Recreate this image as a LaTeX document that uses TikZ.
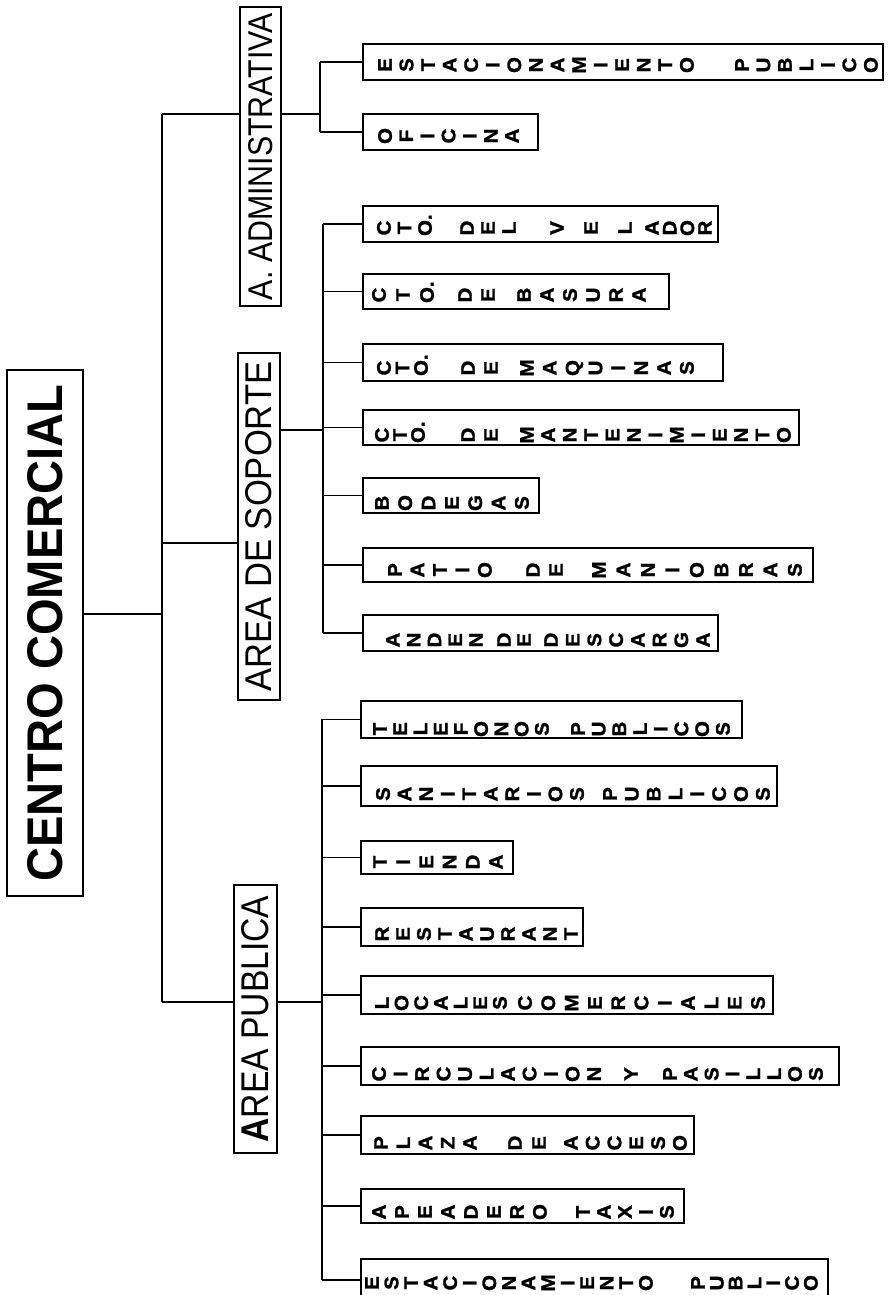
\documentclass[tikz,border=0pt]{standalone}
\usepackage{fontspec}
\setmainfont{Liberation Sans}
\newfontfamily\leaffont{Liberation Sans}[UprightFont=* Bold, FakeStretch=1.05, FakeBold=1.5]
% name, x of first letter, x of last letter, y, number of letters, stacked letters
\newcommand\wordat[6]{%
  \pgfmathsetmacro\wpitch{(#3-#2)/max(#5-1,1)}%
  \pgfmathsetmacro\wmid{(#2+#3)/2}%
  \node[ltrs, font={\leaffont\fontsize{19.5pt}{\wpitch pt}\selectfont}] (#1) at (\wmid,#4) {#6};}
% name, left, top, right, bottom
\newcommand\leafat[5]{%
  \node[leafbox, anchor=north west, minimum width={(#4-#2)*1pt}, minimum height={(#5-#3)*1pt}] (#1) at (#2,#3) {};}
\begin{document}
\begin{tikzpicture}[x=1pt,y=-1pt,
  conn/.style={line width=1.7pt},
  leafbox/.style={draw, line width=1.7pt, inner sep=0pt},
  titlebox/.style={draw, line width=2.3pt, inner sep=0pt},
  ltrs/.style={rotate=90, align=center, inner sep=0pt}]
\useasboundingbox (0,0) rectangle (887,1295);
\fill[white] (0,0) rectangle (887,1295);

% ---- titles ----
\node[titlebox, minimum width=76pt, minimum height=526pt] (cc) at (45,633)
  {\rotatebox{90}{\resizebox{497pt}{35pt}{\bfseries CENTRO COMERCIAL}}};
\node[titlebox, minimum width=41pt, minimum height=299pt] (adm) at (260.5,156.5)
  {\rotatebox{90}{\resizebox{287pt}{24pt}{A. ADMINISTRATIVA}}};
\node[titlebox, minimum width=42pt, minimum height=347pt] (sop) at (259,526.5)
  {\rotatebox{90}{\resizebox{330pt}{26pt}{AREA DE SOPORTE}}};
\node[titlebox, minimum width=43pt, minimum height=268pt] (pub) at (255.5,1019)
  {\rotatebox{90}{\resizebox{247pt}{27pt}{\textbf{A}REA PUBLICA}}};

% ---- trunk ----
\coordinate (tA) at (162,114);
\coordinate (tS) at (162,543);
\coordinate (tM) at (162,614);
\coordinate (tP) at (162,1002);
\draw[conn] (tA) -- (tP);
\draw[conn] (cc.east |- tM) -- (tM);
\draw[conn] (tA) -- (adm.west |- tA);
\draw[conn] (tS) -- (sop.west |- tS);
\draw[conn] (tP) -- (pub.west |- tP);

% ---- leaves: administrativa ----
\leafat{a1}{362}{43}{882}{79}
\leafat{a2}{362}{113}{537}{149}
\wordat{a1w1}{385}{687}{65}{15}{E\\S\\T\\A\\C\\I\\O\\N\\A\\M\\I\\E\\N\\T\\O}
\wordat{a1w2}{742}{871}{65}{7}{P\\U\\B\\L\\I\\C\\O}
\wordat{a2w1}{385}{512}{136}{7}{O\\F\\I\\C\\I\\N\\A}

% ---- leaves: soporte ----
\leafat{s1}{362}{205}{717}{241}
\leafat{s2}{362}{273}{668}{308}
\leafat{s3}{362}{343}{722}{380}
\leafat{s4}{362}{409}{798}{444}
\leafat{s5}{362}{477}{538}{512}
\leafat{s6}{362}{547}{812}{581}
\leafat{s7}{362}{614}{717}{650}
\wordat{s1w1}{384}{425}{228}{3}{C\\T\\O\rlap{.}}
\wordat{s1w2}{467}{509}{228}{3}{D\\E\\L}
\wordat{s1w3}{557}{625}{228}{3}{V\\E\\L}
\wordat{s1w4}{652}{705}{228}{4}{A\\D\\O\\R}
\wordat{s2w1}{379}{427}{295}{3}{C\\T\\O\rlap{.}}
\wordat{s2w2}{465}{488}{295}{2}{D\\E}
\wordat{s2w3}{524}{639}{295}{6}{B\\A\\S\\U\\R\\A}
\wordat{s3w1}{384}{421}{368}{3}{C\\T\\O\rlap{.}}
\wordat{s3w2}{468}{491}{368}{2}{D\\E}
\wordat{s3w3}{527}{687}{368}{8}{M\\A\\Q\\U\\I\\N\\A\\S}
\wordat{s4w1}{382}{418}{435}{3}{C\\T\\O\rlap{.}}
\wordat{s4w2}{468}{491}{435}{2}{D\\E}
\wordat{s4w3}{527}{784}{435}{13}{M\\A\\N\\T\\E\\N\\I\\M\\I\\E\\N\\T\\O}
\wordat{s5w1}{382}{522}{503}{7}{B\\O\\D\\E\\G\\A\\S}
\wordat{s6w1}{395}{485}{570}{5}{P\\A\\T\\I\\O}
\wordat{s6w2}{533}{556}{570}{2}{D\\E}
\wordat{s6w3}{599}{795}{570}{9}{M\\A\\N\\I\\O\\B\\R\\A\\S}
\wordat{s7w1}{393}{476}{640}{5}{A\\N\\D\\E\\N}
\wordat{s7w2}{504}{524}{640}{2}{D\\E}
\wordat{s7w3}{551}{703}{640}{8}{D\\E\\S\\C\\A\\R\\G\\A}

% ---- leaves: publica ----
\leafat{p1}{360}{700}{741}{737}
\leafat{p2}{360}{765}{776}{805}
\leafat{p3}{360}{840}{512}{873}
\leafat{p4}{360}{907}{582}{945}
\leafat{p5}{360}{975}{772}{1013}
\leafat{p6}{360}{1046}{838}{1084}
\leafat{p7}{360}{1115}{693}{1153}
\leafat{p8}{360}{1188}{683}{1222}
\leafat{p9}{360}{1258}{827}{1300}
\wordat{p1w1}{380}{542}{729}{9}{T\\E\\L\\E\\F\\O\\N\\O\\S}
\wordat{p1w2}{578}{723}{729}{8}{P\\U\\B\\L\\I\\C\\O\\S}
\wordat{p2w1}{383}{577}{794}{10}{S\\A\\N\\I\\T\\A\\R\\I\\O\\S}
\wordat{p2w2}{610}{763}{794}{8}{P\\U\\B\\L\\I\\C\\O\\S}
\wordat{p3w1}{380}{496}{862}{6}{T\\I\\E\\N\\D\\A}
\wordat{p4w1}{382}{571}{934}{10}{R\\E\\S\\T\\A\\U\\R\\A\\N\\T}
\wordat{p5w1}{382}{500}{1003}{7}{L\\O\\C\\A\\L\\E\\S}
\wordat{p5w2}{525}{758}{1003}{11}{C\\O\\M\\E\\R\\C\\I\\A\\L\\E\\S}
\wordat{p6w1}{379}{594}{1074}{11}{C\\I\\R\\C\\U\\L\\A\\C\\I\\O\\N}
\wordat{p6w2}{631}{631}{1074}{1}{Y}
\wordat{p6w3}{670}{816}{1074}{8}{P\\A\\S\\I\\L\\L\\O\\S}
\wordat{p7w1}{381}{470}{1143}{5}{P\\L\\A\\Z\\A}
\wordat{p7w2}{515}{539}{1143}{2}{D\\E}
\wordat{p7w3}{571}{680}{1143}{6}{A\\C\\C\\E\\S\\O}
\wordat{p8w1}{379}{540}{1212}{8}{A\\P\\E\\A\\D\\E\\R\\O}
\wordat{p8w2}{583}{667}{1212}{5}{T\\A\\X\\I\\S}
\wordat{p9w1}{372}{646}{1283}{15}{E\\S\\T\\A\\C\\I\\O\\N\\A\\M\\I\\E\\N\\T\\O}
\wordat{p9w2}{698}{811}{1283}{7}{P\\U\\B\\L\\I\\C\\O}

% ---- branch connectors ----
\coordinate (jA) at (320,114);
\coordinate (jS) at (323,430);
\coordinate (jP) at (322,1002);
\draw[conn] (adm.east |- jA) -- (jA);
\draw[conn] (sop.east |- jS) -- (jS);
\draw[conn] (pub.east |- jP) -- (jP);
\draw[conn] (jA |- a1.west) -- (jA |- a2.west);
\draw[conn] (jS |- s1.west) -- (jS |- s7.west);
\draw[conn] (jP |- p1.west) -- (jP |- p9.west);
\foreach \n in {a1,a2} \draw[conn] (jA |- \n.west) -- (\n.west);
\foreach \n in {s1,s2,s3,s4,s5,s6,s7} \draw[conn] (jS |- \n.west) -- (\n.west);
\foreach \n in {p1,p2,p3,p4,p5,p6,p7,p8,p9} \draw[conn] (jP |- \n.west) -- (\n.west);
\end{tikzpicture}
\end{document}
